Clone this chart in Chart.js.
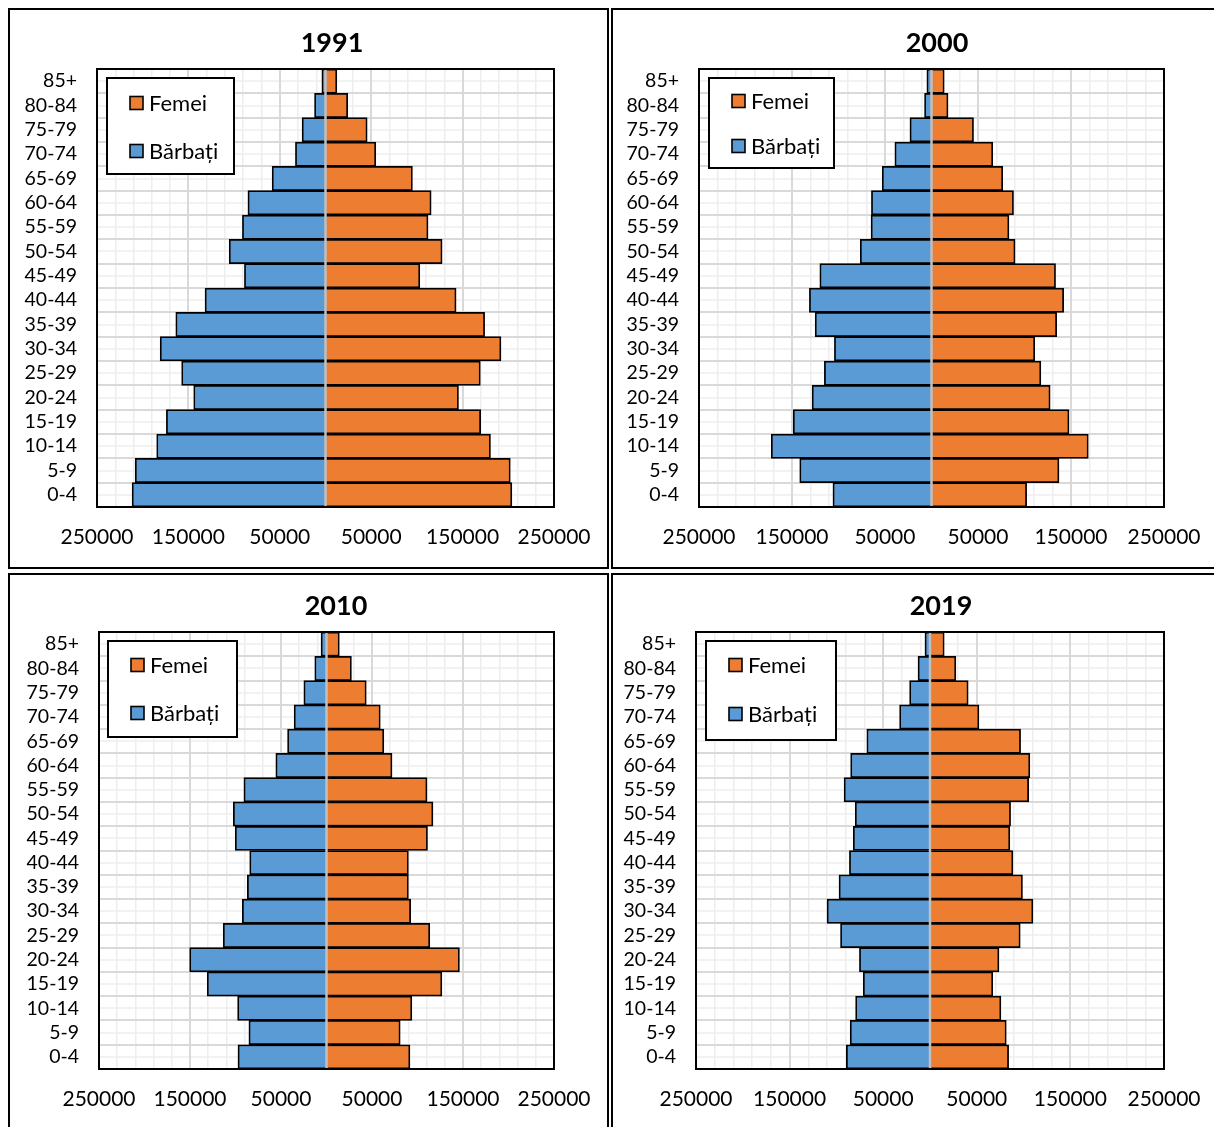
<!DOCTYPE html>
<html lang="ro">
<head>
<meta charset="utf-8">
<title>Piramida vârstelor 1991–2019</title>
<script src="https://cdn.jsdelivr.net/npm/chart.js@4.4.1/dist/chart.umd.min.js"></script>
<style>
  html, body { margin: 0; padding: 0; background: #fff; }
  body { position: relative; width: 1214px; height: 1127px; overflow: hidden; }
  .panel { position: absolute; box-sizing: border-box; border: 2px solid #000; }
  canvas { position: absolute; }
</style>
</head>
<body>
<div class="panel" style="left:8px;top:8px;width:601px;height:561px"></div>
<div class="panel" style="left:611px;top:8px;width:620px;height:561px"></div>
<div class="panel" style="left:8px;top:573px;width:601px;height:600px"></div>
<div class="panel" style="left:611px;top:573px;width:620px;height:600px"></div>
<canvas id="p1991"></canvas>
<canvas id="p2000"></canvas>
<canvas id="p2010"></canvas>
<canvas id="p2019"></canvas>
<script>
// Age groups, youngest first (drawn bottom-up)
const ageGroups = ['0-4','5-9','10-14','15-19','20-24','25-29','30-34','35-39','40-44',
                   '45-49','50-54','55-59','60-64','65-69','70-74','75-79','80-84','85+'];

// Population by age group (persons)
const men1991   = [211600,208200,184700,174100,144200,157400,180900,163800,131800,88700,105400,90900,84900,58400,32900,25600,12000,4000];
const women1991 = [203900,202200,180500,169800,145500,169400,192000,174100,142900,103200,127600,112200,115600,95100,55000,45600,24300,12400];

const men2000   = [106000,141700,172300,148700,128400,115200,104400,125100,131300,120100,76600,65000,64600,53000,39400,23200,7500,5000];
const women2000 = [102300,137100,168600,147900,127600,117600,111000,134600,142100,133400,89900,83300,88200,76600,65900,45200,17800,13700];

const men2010   = [97300,85300,97700,131100,150400,113500,92500,87000,84400,100300,102400,90800,55700,42800,35600,24900,12900,6000];
const women2010 = [91700,81000,93800,126800,146100,113500,92500,90000,90000,111000,117000,110500,72000,63000,59100,43700,27400,14100];

const men2019   = [89400,85300,79500,71300,75400,95600,110000,97200,86100,82000,79900,91800,84800,67500,32500,21800,12800,5400];
const women2019 = [84000,81500,75800,67100,73700,96400,110000,98800,88600,85300,86100,105400,106700,96800,52300,40800,27600,15200];

// Horizontal axis: labelled ticks and the spacing of the fine grid
const xMin = -250000, xMax = 250000;
const majorTicks = [-250000,-150000,-50000,50000,150000,250000];
const minorStep = 20000;

const FONT = "Lato, 'Open Sans', sans-serif";
const BLUE = '#5B9BD5', ORANGE = '#ED7D31';

// Where each panel sits on the page: canvas box, plot box, title centre, legend box
const panels = [
  { id:'p1991', title:'1991', men:men1991, women:women1991,
    canvas:{x:10,y:10,w:597,h:557},  plot:{l:97,t:69,r:554,b:507},   titleAt:{x:332,y:42},
    legend:{dx:10,dy:9,w:127,h:96,rows:[25,73]} },
  { id:'p2000', title:'2000', men:men2000, women:women2000,
    canvas:{x:613,y:10,w:601,h:557}, plot:{l:699,t:69,r:1164,b:507},  titleAt:{x:937,y:42},
    legend:{dx:10,dy:9,w:125,h:90,rows:[23,68]} },
  { id:'p2010', title:'2010', men:men2010, women:women2010,
    canvas:{x:10,y:575,w:597,h:552}, plot:{l:99,t:632,r:554,b:1069},  titleAt:{x:336,y:605},
    legend:{dx:9,dy:9,w:129,h:96,rows:[24,72]} },
  { id:'p2019', title:'2019', men:men2019, women:women2019,
    canvas:{x:613,y:575,w:601,h:552}, plot:{l:696,t:632,r:1164,b:1069}, titleAt:{x:941,y:605},
    legend:{dx:10,dy:9,w:130,h:99,rows:[24,73]} }
];

const gridTicks = [];
for (let v = xMin; v <= xMax; v += minorStep) gridTicks.push(v);
const isMajor = v => majorTicks.includes(v);

// Fine horizontal grid, central axis, plot frame, title and boxed legend
const pyramidDecor = {
  id: 'pyramidDecor',
  beforeDraw(chart) {
    const {ctx, chartArea: a, scales: {y}} = chart;
    ctx.save();
    ctx.strokeStyle = '#eeeeee';
    ctx.lineWidth = 1.5;
    ageGroups.forEach((_, i) => {
      const py = Math.round(y.getPixelForValue(i));
      ctx.beginPath(); ctx.moveTo(a.left, py); ctx.lineTo(a.right, py); ctx.stroke();
    });
    ctx.restore();
  },
  afterDatasetsDraw(chart) {
    const {ctx, chartArea: a, scales: {x}} = chart;
    const x0 = x.getPixelForValue(0);
    ctx.save();
    ctx.strokeStyle = '#bfbfbf';
    ctx.lineWidth = 2.5;
    ctx.beginPath(); ctx.moveTo(x0, a.top); ctx.lineTo(x0, a.bottom); ctx.stroke();
    ctx.strokeStyle = '#000';
    ctx.lineWidth = 2;
    ctx.strokeRect(a.left, a.top, a.right - a.left, a.bottom - a.top);
    ctx.restore();
  },
  afterDraw(chart, args, opts) {
    const {ctx, chartArea: a} = chart;
    ctx.save();
    // title
    ctx.fillStyle = '#000';
    ctx.font = 'bold 27px ' + FONT;
    ctx.textAlign = 'center';
    ctx.textBaseline = 'alphabetic';
    ctx.fillText(opts.text, opts.titleX, opts.titleY + 10);
    // legend box
    const lg = opts.legend;
    const bx = a.left + lg.dx, by = a.top + lg.dy;
    ctx.fillStyle = '#fff';
    ctx.fillRect(bx, by, lg.w, lg.h);
    ctx.strokeStyle = '#000';
    ctx.lineWidth = 2;
    ctx.strokeRect(bx, by, lg.w, lg.h);
    const items = chart.data.datasets.slice().reverse();
    ctx.font = '22px ' + FONT;
    ctx.textAlign = 'left';
    ctx.textBaseline = 'middle';
    items.forEach((ds, i) => {
      const cy = by + lg.rows[i];
      ctx.fillStyle = ds.backgroundColor;
      ctx.fillRect(bx + 23, cy - 6.5, 13, 13);
      ctx.lineWidth = 1.6;
      ctx.strokeStyle = '#000';
      ctx.strokeRect(bx + 23, cy - 6.5, 13, 13);
      ctx.fillStyle = '#000';
      ctx.fillText(ds.label, bx + 42, cy + 1);
    });
    ctx.restore();
  }
};

panels.forEach(p => {
  const cv = document.getElementById(p.id);
  cv.width = p.canvas.w; cv.height = p.canvas.h;
  cv.style.left = p.canvas.x + 'px'; cv.style.top = p.canvas.y + 'px';
  cv.style.width = p.canvas.w + 'px'; cv.style.height = p.canvas.h + 'px';

  const yAxisWidth = p.plot.l - p.canvas.x;
  const xAxisHeight = p.canvas.y + p.canvas.h - p.plot.b;
  const padRight = p.canvas.x + p.canvas.w - p.plot.r;
  const padTop = p.plot.t - p.canvas.y;

  new Chart(cv, {
    type: 'bar',
    data: {
      labels: ageGroups,
      datasets: [
        { label: 'Bărbați', data: p.men.map(v => -v), backgroundColor: BLUE,
          borderColor: '#000', borderWidth: 1.75, barPercentage: 1, categoryPercentage: 1 },
        { label: 'Femei', data: p.women, backgroundColor: ORANGE,
          borderColor: '#000', borderWidth: 1.75, barPercentage: 1, categoryPercentage: 1 }
      ]
    },
    options: {
      indexAxis: 'y',
      responsive: false,
      animation: false,
      events: [],
      layout: { padding: { left: 0, right: padRight, top: padTop, bottom: 0 } },
      scales: {
        x: {
          type: 'linear', min: xMin, max: xMax, stacked: true,
          afterBuildTicks(scale) { scale.ticks = gridTicks.map(v => ({ value: v })); },
          afterFit(scale) { scale.height = xAxisHeight; scale.paddingLeft = 0; scale.paddingRight = 0; },
          grid: {
            drawTicks: false,
            color: c => (c.tick && isMajor(c.tick.value)) ? '#d9d9d9' : '#eeeeee',
            lineWidth: c => (c.tick && isMajor(c.tick.value)) ? 2 : 1.5
          },
          border: { display: false },
          ticks: {
            autoSkip: false, maxRotation: 0, padding: 18, color: '#000',
            font: { family: FONT, size: 21 },
            callback: v => isMajor(v) ? String(Math.abs(v)) : ''
          }
        },
        y: {
          type: 'category', stacked: true, reverse: true,
          afterFit(scale) { scale.width = yAxisWidth; scale.paddingTop = 0; scale.paddingBottom = 0; },
          grid: { offset: true, drawTicks: false, color: '#d9d9d9', lineWidth: 2 },
          border: { display: false },
          ticks: { autoSkip: false, padding: 20, color: '#000', font: { family: FONT, size: 19.5 } }
        }
      },
      plugins: {
        legend: { display: false },
        tooltip: { enabled: false },
        pyramidDecor: {
          text: p.title,
          titleX: p.titleAt.x - p.canvas.x,
          titleY: p.titleAt.y - p.canvas.y,
          legend: p.legend
        }
      }
    },
    plugins: [pyramidDecor]
  });
});
</script>
</body>
</html>
